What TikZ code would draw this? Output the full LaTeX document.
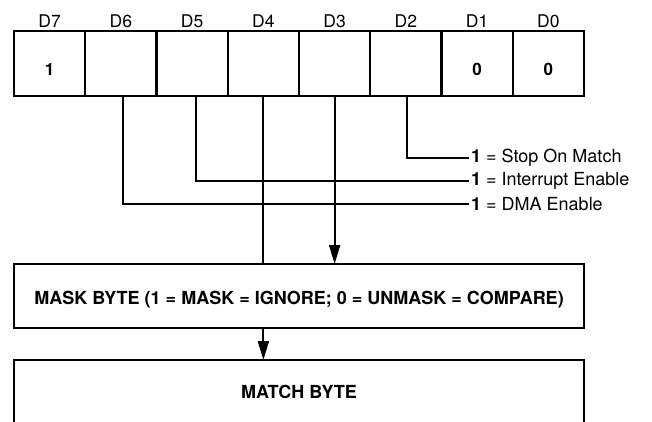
\documentclass[tikz,border=0pt]{standalone}
\usepackage{fontspec}
\setmainfont{TeX Gyre Heros}
\usetikzlibrary{arrows.meta}
\begin{document}
\begin{tikzpicture}[x=1pt,y=-1pt,
  cell/.style={draw,line width=2.2pt,minimum width=71.25pt,minimum height=65pt,
    inner sep=0pt,outer sep=0pt,anchor=north west,text height=24pt,text depth=0pt,
    font=\fontsize{17}{18}\selectfont\bfseries},
  bitlbl/.style={anchor=base,inner sep=0pt,font=\fontsize{17.5}{18}\selectfont},
  note/.style={anchor=west,inner sep=0pt,font=\fontsize{18}{20}\selectfont},
  bigbox/.style={draw,line width=2.2pt,minimum width=570pt,inner sep=0pt,outer sep=0pt,
    anchor=north west,font=\fontsize{18}{20}\selectfont\bfseries},
  wire/.style={line width=1.8pt},
  arr/.style={wire,-{Triangle[length=19pt,width=11pt]}}]
\useasboundingbox (0,0) rectangle (652,421);
\clip (0,0) rectangle (652,421);
% register cells
\node[cell] (c7) at (14,31) {1};
\node[cell] (c6) at (c7.north east) {};
\node[cell] (c5) at (c6.north east) {};
\node[cell] (c4) at (c5.north east) {};
\node[cell] (c3) at (c4.north east) {};
\node[cell] (c2) at (c3.north east) {};
\node[cell] (c1) at (c2.north east) {0};
\node[cell] (c0) at (c1.north east) {0};
% bit labels
\foreach \i in {7,...,0}{
  \node[bitlbl] (d\i) at ([yshift=4pt]c\i.north) {D\i};
}
% notes
\node[note] (nstop) at (471,158) {\textbf{1} = Stop On Match};
\node[note] (nint)  at (471,181) {\textbf{1} = Interrupt Enable};
\node[note] (ndma)  at (471,204) {\textbf{1} = DMA Enable};
% boxes
\node[bigbox,minimum height=64pt,text height=16pt,text depth=0pt] (mask) at (14,264)
  {MASK BYTE (1 = MASK = IGNORE; 0 = UNMASK = COMPARE)};
\node[bigbox,minimum height=64pt,text height=13pt,text depth=0pt] (match) at (14,360) {MATCH BYTE};
\draw[line width=2.2pt] (14,360) -- (14,440);
\draw[line width=2.2pt] (584,360) -- (584,440);
% connectors
\draw[wire] ([xshift=2pt]c6.south) |- ([xshift=-2pt]ndma.west);
\draw[wire] ([xshift=4pt]c5.south) |- ([xshift=-2pt]nint.west);
\draw[wire] ([xshift=1pt]c2.south) |- ([xshift=-2pt]nstop.west);
\draw[wire] (c4.south) -- (c4.south |- mask.north);
\draw[arr] (c3.south) -- (c3.south |- mask.north);
\draw[arr] (mask.south -| c4.south) -- (match.north -| c4.south);
\end{tikzpicture}
\end{document}
